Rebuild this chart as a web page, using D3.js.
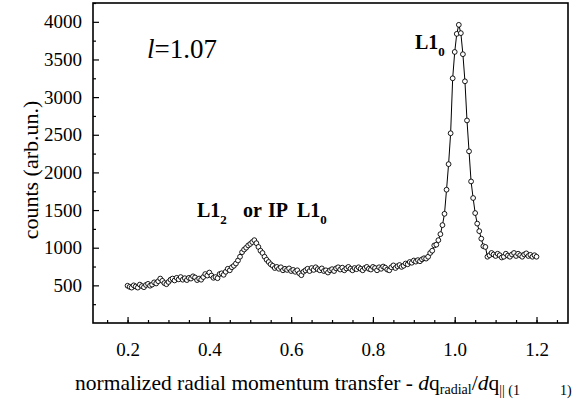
<!DOCTYPE html>
<html>
<head>
<meta charset="utf-8">
<script src="https://cdn.jsdelivr.net/npm/d3@7"></script>
<style>
  html, body { margin: 0; padding: 0; background: #fff; }
  svg { display: block; font-family: "Liberation Serif", "Times New Roman", serif; }
</style>
</head>
<body>
<svg id="chart" width="583" height="401"></svg>
<script>
// Scan positions (normalized radial momentum transfer), 0.200 .. 1.200 in steps of 0.005
const qStart = 0.2, qStep = 0.005;
// Measured counts at each position
const counts = [
  495, 480, 470, 500, 485, 470, 510, 490, 475, 505,
  520, 495, 510, 540, 525, 555, 590, 560, 530, 515,
  545, 575, 590, 565, 600, 580, 610, 575, 595, 570,
  600, 590, 620, 605, 570, 590, 575, 610, 650, 630,
  670, 630, 600, 610, 595, 650, 660, 640, 680, 720,
  700, 740, 760, 790, 830, 880, 940, 975, 1000, 1030,
  1050, 1075, 1100, 1060, 1010, 960, 930, 880, 840, 810,
  780, 760, 730, 745, 720, 740, 700, 720, 705, 725,
  690, 705, 680, 700, 660, 635, 680, 700, 720, 690,
  730, 705, 740, 715, 700, 725, 690, 700, 670, 700,
  715, 690, 725, 740, 710, 735, 700, 725, 745, 720,
  700, 730, 715, 740, 720, 700, 730, 745, 720, 710,
  745, 730, 700, 740, 720, 750, 735, 710, 700, 740,
  765, 730, 755, 770, 745, 760, 790, 780, 810, 800,
  830, 815, 835, 820, 845, 860, 855, 880, 930, 960,
  1030, 1040, 1100, 1180, 1300, 1450, 1770, 2110, 2520, 3250,
  3600, 3840, 3960, 3850, 3570, 3210, 2690, 2280, 1880, 1660,
  1460, 1320, 1220, 1120, 1020, 1010, 880, 900, 930, 910,
  890, 920, 900, 870, 880, 920, 895, 880, 910, 930,
  890, 920, 900, 880, 910, 925, 890, 905, 880, 900,
  880
];
const xTicks = [0.2, 0.4, 0.6, 0.8, 1.0, 1.2];
const yTicks = [500, 1000, 1500, 2000, 2500, 3000, 3500, 4000];

const points = counts.map((c, i) => ({ q: qStart + i * qStep, c }));

const svg = d3.select("#chart");
const margin = { left: 93, right: 15, top: 3, bottom: 78 };
const W = 583, H = 401;
const serif = "Liberation Serif, Times New Roman, serif";

const x = d3.scaleLinear().domain([0.1155, 1.277]).range([margin.left, W - margin.right]);
const y = d3.scaleLinear().domain([0, 4250]).range([H - margin.bottom, margin.top]);

const plotBottom = H - margin.bottom;

// minor ticks
svg.append("g")
  .attr("transform", `translate(0,${plotBottom})`)
  .call(d3.axisBottom(x).tickValues(d3.range(0.15, 1.2501, 0.05)).tickSize(-3).tickFormat(""))
  .call(g => g.select(".domain").remove())
  .call(g => g.selectAll("line").attr("stroke", "#000").attr("stroke-width", 1.2));
svg.append("g")
  .attr("transform", `translate(${margin.left},0)`)
  .call(d3.axisLeft(y).tickValues(d3.range(250, 4251, 500)).tickSize(-3).tickFormat(""))
  .call(g => g.select(".domain").remove())
  .call(g => g.selectAll("line").attr("stroke", "#000").attr("stroke-width", 1.2));

// major ticks + labels
svg.append("g")
  .attr("transform", `translate(0,${plotBottom})`)
  .call(d3.axisBottom(x).tickValues(xTicks).tickSize(-6).tickPadding(20).tickFormat(d3.format(".1f")))
  .call(g => g.select(".domain").remove())
  .call(g => g.selectAll("line").attr("stroke", "#000").attr("stroke-width", 1.2))
  .call(g => g.selectAll("text").attr("font-size", 19).attr("fill", "#000")
    .attr("font-family", serif));
svg.append("g")
  .attr("transform", `translate(${margin.left},0)`)
  .call(d3.axisLeft(y).tickValues(yTicks).tickSize(-6).tickPadding(11).tickFormat(d3.format("d")))
  .call(g => g.select(".domain").remove())
  .call(g => g.selectAll("line").attr("stroke", "#000").attr("stroke-width", 1.2))
  .call(g => g.selectAll("text").attr("font-size", 19).attr("fill", "#000")
    .attr("font-family", serif));

// frame
svg.append("rect")
  .attr("x", margin.left).attr("y", margin.top)
  .attr("width", W - margin.right - margin.left)
  .attr("height", plotBottom - margin.top)
  .attr("fill", "none").attr("stroke", "#000").attr("stroke-width", 1.6);

// data line and markers
svg.append("path")
  .datum(points)
  .attr("fill", "none").attr("stroke", "#000").attr("stroke-width", 1)
  .attr("d", d3.line().x(d => x(d.q)).y(d => y(d.c)));

svg.append("g").selectAll("circle")
  .data(points).join("circle")
  .attr("cx", d => x(d.q)).attr("cy", d => y(d.c))
  .attr("r", 2.4)
  .attr("fill", "#fff").attr("stroke", "#000").attr("stroke-width", 0.9);

// axis titles
svg.append("text")
  .attr("transform", `translate(38,170) rotate(-90)`)
  .attr("text-anchor", "middle")
  .attr("font-size", 22)
  .text("counts (arb.un.)");

const xl = svg.append("text").attr("x", 75).attr("y", 390).attr("font-size", 21.5);
xl.append("tspan").text("normalized radial momentum transfer - ");
xl.append("tspan").attr("font-style", "italic").text("d");
xl.append("tspan").text("q");
xl.append("tspan").attr("font-size", 14).attr("dy", 4).text("radial");
xl.append("tspan").attr("dy", -4).text("/");
xl.append("tspan").attr("font-style", "italic").text("d");
xl.append("tspan").text("q");
xl.append("tspan").attr("font-size", 14).attr("dy", 5).text("|| (1");
xl.append("tspan").attr("font-size", 14).attr("x", 560).text("1)");

// annotations
const lt = svg.append("text").attr("x", 147).attr("y", 58).attr("font-size", 27);
lt.append("tspan").attr("font-style", "italic").text("l");
lt.append("tspan").text("=1.07");

const pk = svg.append("text").attr("x", 415).attr("y", 49)
  .attr("font-size", 20).attr("font-weight", "bold");
pk.append("tspan").text("L1");
pk.append("tspan").attr("font-size", 13).attr("dy", 7).text("0");

const ip = svg.append("g").attr("font-size", 20).attr("font-weight", "bold");
const ipA = ip.append("text").attr("x", 197).attr("y", 217);
ipA.append("tspan").text("L1");
ipA.append("tspan").attr("font-size", 13).attr("dy", 7).text("2");
ip.append("text").attr("x", 243).attr("y", 217).text("or");
ip.append("text").attr("x", 268).attr("y", 217).text("IP");
const ipB = ip.append("text").attr("x", 297).attr("y", 217);
ipB.append("tspan").text("L1");
ipB.append("tspan").attr("font-size", 13).attr("dy", 7).text("0");
</script>
</body>
</html>
